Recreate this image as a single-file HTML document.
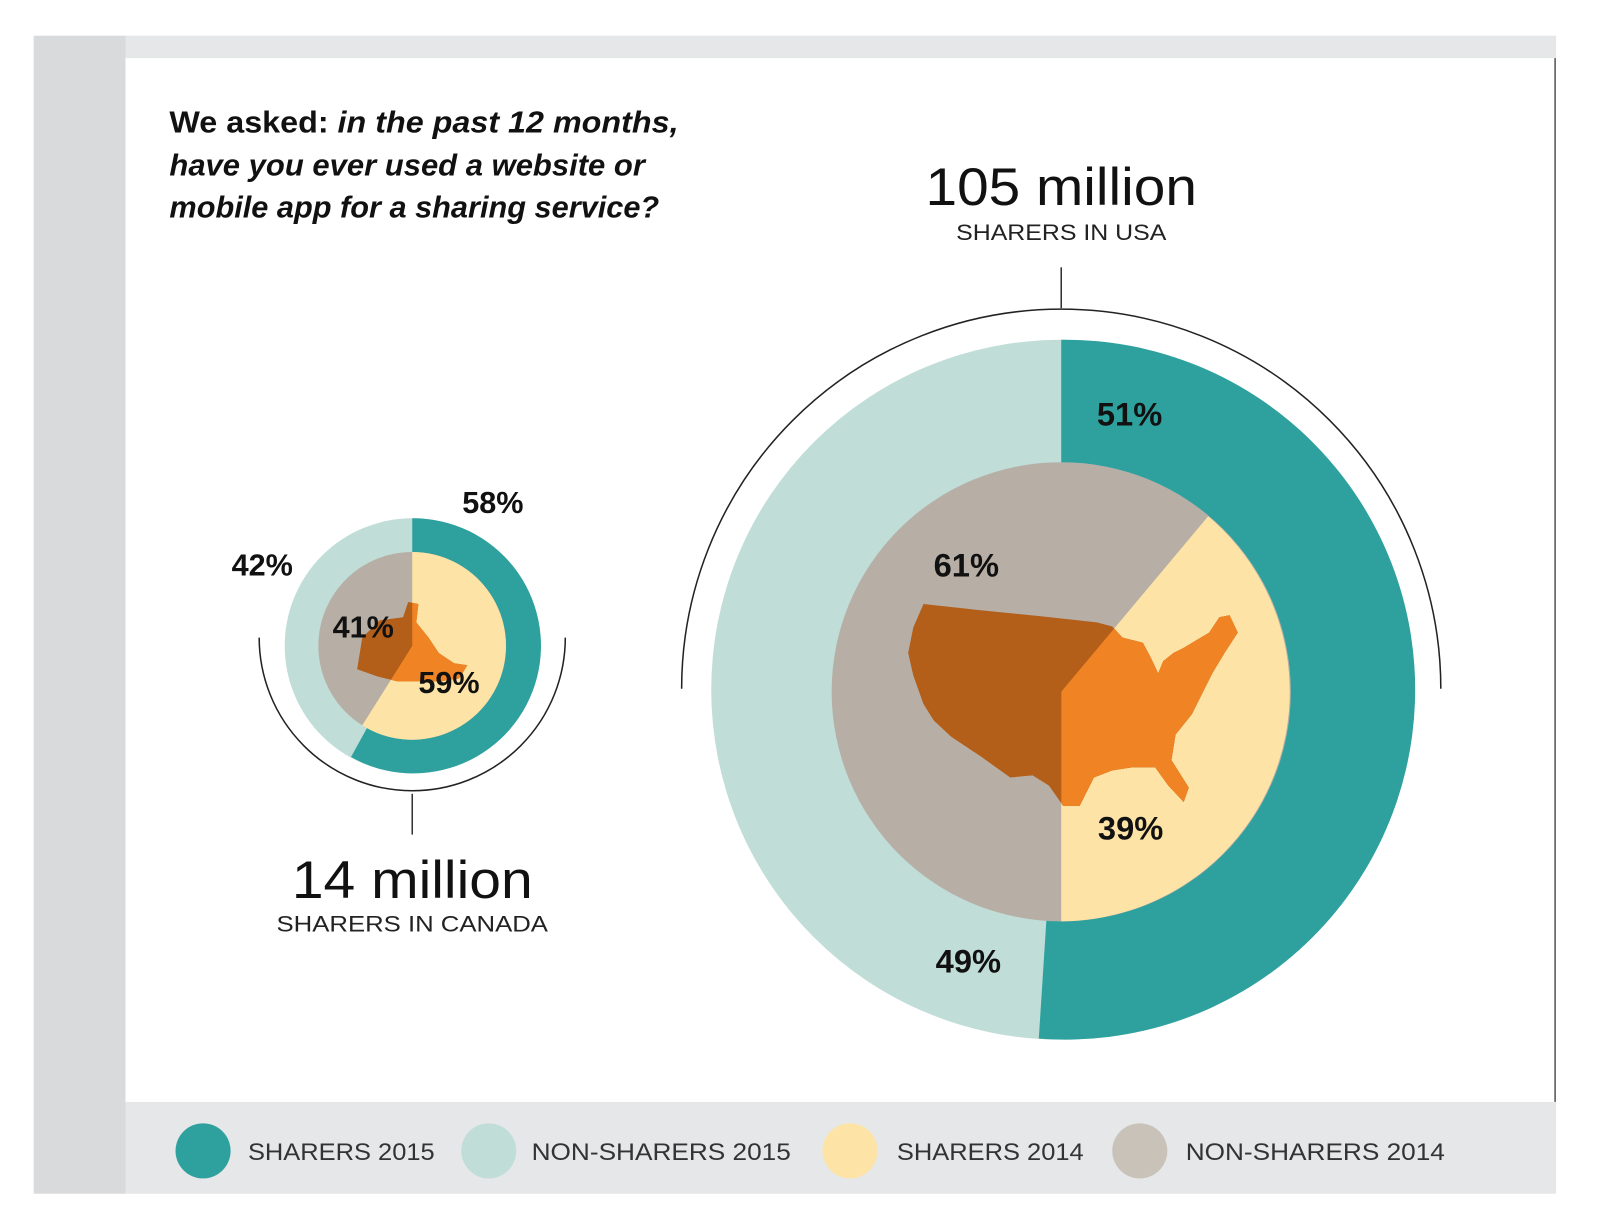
<!DOCTYPE html>
<html><head><meta charset="utf-8"><style>
html,body{margin:0;padding:0;background:#fff;width:1600px;height:1232px;overflow:hidden}
svg{display:block}
text{font-family:"Liberation Sans",sans-serif}
</style></head><body>
<svg width="1600" height="1232" viewBox="0 0 1568 1207.5" preserveAspectRatio="none" xmlns="http://www.w3.org/2000/svg">
<defs>
<clipPath id="usY"><path d="M1040,678 L1184,506 A225,225 0 0 1 1040,903 Z"/></clipPath>
<clipPath id="caY"><path d="M404,633 L404,541 A92,92 0 1 1 355,711 Z"/></clipPath>
</defs>
<rect width="1568" height="1208" fill="#fff"/>
<rect x="33" y="35" width="90" height="1135" fill="#d9dadc"/>
<rect x="123" y="35" width="1402" height="22" fill="#e6e7e9"/>
<rect x="123" y="1080" width="1402" height="90" fill="#e6e7e9"/>
<line x1="1524" y1="57" x2="1524" y2="1080" stroke="#555" stroke-width="1.5"/>

<text x="166" y="130" font-size="30" font-weight="bold" fill="#111" textLength="499" lengthAdjust="spacingAndGlyphs">We asked: <tspan font-style="italic">in the past 12 months,</tspan></text>
<text x="166" y="172" font-size="30" font-weight="bold" font-style="italic" fill="#111" textLength="466" lengthAdjust="spacingAndGlyphs">have you ever used a website or</text>
<text x="166" y="213" font-size="30" font-weight="bold" font-style="italic" fill="#111" textLength="480" lengthAdjust="spacingAndGlyphs">mobile app for a sharing service?</text>

<text x="1040" y="201" font-size="52" fill="#111" text-anchor="middle" textLength="266" lengthAdjust="spacingAndGlyphs">105 million</text>
<text x="1040" y="235" font-size="22" fill="#222" text-anchor="middle" textLength="206" lengthAdjust="spacingAndGlyphs">SHARERS IN USA</text>
<line x1="1040" y1="262" x2="1040" y2="302" stroke="#333" stroke-width="1.5"/>
<path d="M668,675 A372,372 0 0 1 1412,675" fill="none" stroke="#222" stroke-width="1.5"/>

<!-- USA -->
<circle cx="1040" cy="676" r="343" fill="#c0ddd7"/>
<path d="M1040,676 L1040,333 A343,343 0 1 1 1018,1018 Z" fill="#2ea19e"/>
<circle cx="1040" cy="678" r="225" fill="#b7afa6"/>
<path d="M1040,678 L1184,506 A225,225 0 0 1 1040,903 Z" fill="#fde4a6"/>
<g id="us">
<path id="usp" d="M905,592 L960,598 L1020,604 L1075,610 L1090,614 L1100,625 L1120,630 L1128,645 L1135,660 L1140,648 L1150,640 L1160,635 L1185,620 L1195,605 L1205,603 L1213,620 L1200,640 L1188,660 L1178,680 L1168,700 L1152,720 L1148,745 L1165,772 L1160,786 L1145,770 L1132,752 L1110,752 L1090,755 L1072,762 L1058,790 L1042,790 L1028,770 L1012,760 L990,762 L962,742 L932,722 L915,706 L905,690 L895,662 L890,640 L895,615 Z" fill="#b35f1a"/>
</g>
<use href="#usp" fill="#f08424" clip-path="url(#usY)" style="fill:#f08424"/>
<path clip-path="url(#usY)" d="M905,592 L960,598 L1020,604 L1075,610 L1090,614 L1100,625 L1120,630 L1128,645 L1135,660 L1140,648 L1150,640 L1160,635 L1185,620 L1195,605 L1205,603 L1213,620 L1200,640 L1188,660 L1178,680 L1168,700 L1152,720 L1148,745 L1165,772 L1160,786 L1145,770 L1132,752 L1110,752 L1090,755 L1072,762 L1058,790 L1042,790 L1028,770 L1012,760 L990,762 L962,742 L932,722 L915,706 L905,690 L895,662 L890,640 L895,615 Z" fill="#f08424"/>

<g font-size="32" font-weight="bold" fill="#111" text-anchor="middle">
<text x="1107" y="417">51%</text>
<text x="947" y="565">61%</text>
<text x="1108" y="823">39%</text>
<text x="949" y="953">49%</text>
</g>

<!-- Canada -->
<path d="M254,625 A150,150 0 0 0 554,625" fill="none" stroke="#222" stroke-width="1.5"/>
<line x1="404" y1="778" x2="404" y2="818" stroke="#333" stroke-width="1.5"/>
<circle cx="404" cy="633" r="125" fill="#c0ddd7"/>
<path d="M404,633 L404,508 A125,125 0 1 1 344,742 Z" fill="#2ea19e"/>
<circle cx="404" cy="633" r="92" fill="#b7afa6"/>
<path d="M404,633 L404,541 A92,92 0 1 1 355,711 Z" fill="#fde4a6"/>
<path d="M350,656 L355,625 L372,608 L395,605 L400,590 L410,592 L408,610 L420,625 L430,640 L445,650 L458,652 L450,665 L430,668 L410,668 L390,668 L370,663 Z" fill="#b35f1a"/>
<path clip-path="url(#caY)" d="M350,656 L355,625 L372,608 L395,605 L400,590 L410,592 L408,610 L420,625 L430,640 L445,650 L458,652 L450,665 L430,668 L410,668 L390,668 L370,663 Z" fill="#f08424"/>
<g font-size="30" font-weight="bold" fill="#111" text-anchor="middle">
<text x="483" y="503">58%</text>
<text x="257" y="564">42%</text>
<text x="356" y="625">41%</text>
<text x="440" y="679">59%</text>
</g>
<text x="404" y="880" font-size="52" fill="#111" text-anchor="middle" textLength="236" lengthAdjust="spacingAndGlyphs">14 million</text>
<text x="404" y="913" font-size="22" fill="#222" text-anchor="middle" textLength="266" lengthAdjust="spacingAndGlyphs">SHARERS IN CANADA</text>

<!-- Legend -->
<circle cx="199" cy="1128" r="27" fill="#2ea19e"/>
<circle cx="479" cy="1128" r="27" fill="#c0ddd7"/>
<circle cx="833" cy="1128" r="27" fill="#fde4a6"/>
<circle cx="1117" cy="1128" r="27" fill="#c8c2b8"/>
<g font-size="24" fill="#333">
<text x="243" y="1137" textLength="183" lengthAdjust="spacingAndGlyphs">SHARERS 2015</text>
<text x="521" y="1137" textLength="254" lengthAdjust="spacingAndGlyphs">NON-SHARERS 2015</text>
<text x="879" y="1137" textLength="183" lengthAdjust="spacingAndGlyphs">SHARERS 2014</text>
<text x="1162" y="1137" textLength="254" lengthAdjust="spacingAndGlyphs">NON-SHARERS 2014</text>
</g>
</svg>
</body></html>
